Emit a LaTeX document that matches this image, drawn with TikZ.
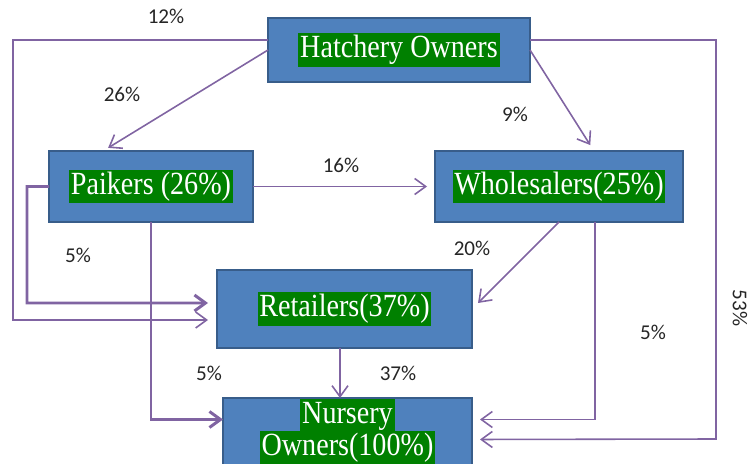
\documentclass[tikz,border=0pt]{standalone}
\usepackage{graphicx}
\usepackage{fontspec}
\setmainfont{Liberation Serif}
\newfontfamily\labelfont{Carlito}
\usetikzlibrary{arrows.meta}
\definecolor{boxblue}{HTML}{4F81BD}
\definecolor{boxedge}{HTML}{385D8A}
\definecolor{flowline}{HTML}{8064A2}
\definecolor{hlgreen}{HTML}{008000}
\definecolor{pcttext}{HTML}{262626}
\newcommand{\hl}[1]{\scalebox{1}[1.15]{\setlength{\fboxsep}{1pt}\colorbox{hlgreen}{\vphantom{(}#1}}}

\begin{document}
\begin{tikzpicture}[actor/.style={draw=boxedge, line width=0.7pt, fill=boxblue, text=white, font=\fontsize{16}{18}\selectfont, inner sep=0pt, outer sep=0pt, align=center},
pct/.style={font=\labelfont\fontsize{12}{14}\selectfont, text=pcttext, inner sep=0pt},
flow/.style={draw=flowline, line width=0.9pt, -{Straight Barb[length=2.2mm,width=3.2mm]}},
bigflow/.style={flow, line width=1.7pt}]
\useasboundingbox (0,0) rectangle (14.98,9.26);

\node[actor, minimum width=5.24cm, minimum height=1.28cm] (hatch) at (7.98,8.26) {\hl{Hatchery Owners}};
\node[actor, minimum width=4.08cm, minimum height=1.42cm] (paik) at (3.02,5.53) {\hl{Paikers (26\%)}};
\node[actor, minimum width=4.96cm, minimum height=1.42cm] (whole) at (11.18,5.53) {\hl{Wholesalers(25\%)}};
\node[actor, minimum width=5.10cm, minimum height=1.56cm] (retail) at (6.89,3.08) {\hl{Retailers(37\%)}};
\node[actor, minimum width=4.98cm, minimum height=1.36cm] (nurs) at (6.95,0.62) {\hl{Nursery}\\[-2pt]\hl{Owners(100\%)}};

\coordinate (lft) at (0.26,2.86);
\coordinate (rgt) at (14.32,0.48);
\coordinate (paiklft) at (0.54,3.20);

\draw[flow, shorten >=0.18cm] ([yshift=0.2cm]hatch.west) -| (lft) -- ([yshift=-0.22cm]retail.west);
\draw[flow, shorten >=0.16cm] ([yshift=0.2cm]hatch.east) -| (rgt) -- ([yshift=-0.15cm]nurs.east);
\draw[flow, shorten >=0.12cm] (hatch.west) -- ([xshift=-0.96cm]paik.north);
\draw[flow, shorten >=0.14cm] (hatch.east) -- ([xshift=0.7cm]whole.north);
\draw[flow, shorten >=0.16cm] (paik.east) -- (whole.west);
\draw[bigflow, shorten >=0.18cm] (paik.west) -| (paiklft) -- ([yshift=0.12cm]retail.west);
\draw[bigflow] (paik.south) |- ([yshift=0.25cm]nurs.west);
\draw[flow, shorten >=0.17cm] (whole.south) -- (retail.east);
\draw[flow, shorten >=0.16cm] ([xshift=0.72cm]whole.south) |- ([yshift=0.25cm]nurs.east);
\draw[flow] ([xshift=-0.09cm]retail.south) -- ([xshift=-0.09cm]retail.south |- nurs.north);

\node[pct] (p12) at (3.32,8.94) {12\%};
\node[pct] (p26) at (2.44,7.38) {26\%};
\node[pct] (p9) at (10.30,6.98) {9\%};
\node[pct] (p16) at (6.82,5.96) {16\%};
\node[pct] (p5a) at (1.56,4.16) {5\%};
\node[pct] (p20) at (9.44,4.30) {20\%};
\node[pct] (p5b) at (13.06,2.62) {5\%};
\node[pct, rotate=-90] (p53) at (14.80,3.10) {53\%};
\node[pct] (p5c) at (4.18,1.80) {5\%};
\node[pct] (p37) at (7.96,1.80) {37\%};
\end{tikzpicture}
\end{document}
